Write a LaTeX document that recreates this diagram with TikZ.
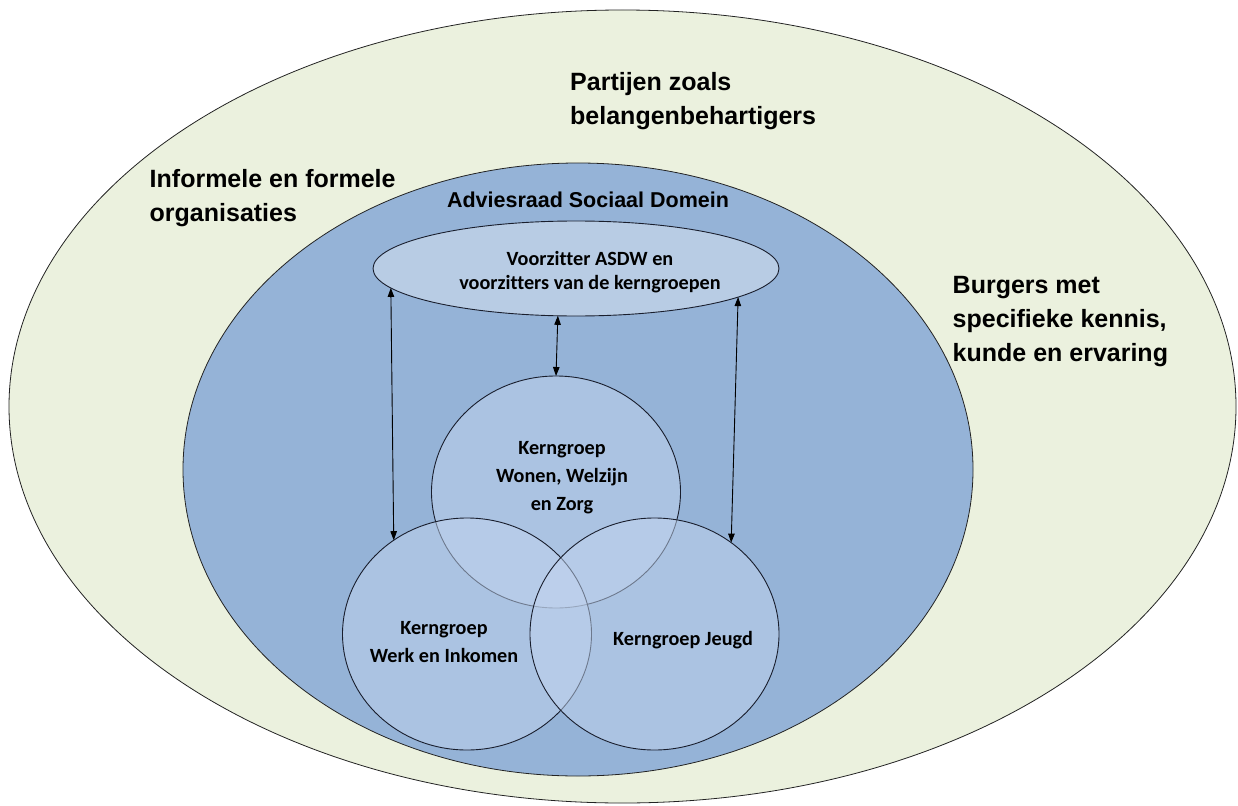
\documentclass[tikz,border=0pt]{standalone}
\usepackage{fontspec}
\newfontfamily\lsans{Liberation Sans}
\newfontfamily\carl{Carlito}[Ligatures=CommonOff]
\usetikzlibrary{shapes.geometric,arrows.meta}
\definecolor{outerfill}{RGB}{235,241,222}
\definecolor{bluefill}{RGB}{149,179,215}
\definecolor{topfill}{RGB}{184,204,228}
\definecolor{circfill}{RGB}{194,212,238}
\definecolor{edge}{RGB}{35,35,35}
\definecolor{circedge}{RGB}{25,30,45}
\begin{document}
\begin{tikzpicture}[x=1pt,y=-1pt,
  shp/.style={ellipse, inner sep=0pt, outer sep=0pt},
  kern/.style={shp, draw=circedge, line width=0.9pt, fill=circfill, fill opacity=0.5, minimum width=249pt, minimum height=232pt},
  bigtxt/.style={font=\lsans\bfseries\fontsize{25}{30}\selectfont, inner sep=0pt, anchor=base west, text=black},
  midtxt/.style={font=\lsans\bfseries\fontsize{21.5}{26}\selectfont, inner sep=0pt, anchor=base, text=black},
  smalltxt/.style={font=\carl\bfseries\fontsize{20.2}{24}\selectfont, inner sep=0pt, anchor=base, text=black},
  arr/.style={{Triangle[length=9pt,width=6.5pt]}-{Triangle[length=9pt,width=6.5pt]}, line width=0.9pt, black}
]
\useasboundingbox (0,0) rectangle (1238,805);

% shapes
\node[shp, draw=edge, line width=0.8pt, fill=outerfill, minimum width=1227pt, minimum height=793pt] (outer) at (622.5,406.5) {};
\node[shp, draw=edge, line width=0.8pt, fill=bluefill, minimum width=790pt, minimum height=613pt] (blue) at (578,469.5) {};
\node[shp, draw=circedge, line width=0.9pt, fill=topfill, minimum width=406pt, minimum height=95pt] (top) at (576,268.5) {};
\node[kern] (wwz) at (556,492) {};
\node[kern] (wi) at (467,634) {};
\node[kern] (jeugd) at (654.5,634) {};

% connectors
\draw[arr] (top.186) -- (wi.128.8);
\draw[arr] (top.-111.9) -- (wwz.north);
\draw[arr] (top.-10.5) -- (jeugd.50.7);

% outer labels
\node[bigtxt] (p1) at (570,91) {Partijen zoals};
\node[bigtxt] (p2) at (570,125) {belangenbehartigers};
\node[bigtxt] (i1) at (149.5,187) {Informele en formele};
\node[bigtxt] (i2) at (149.5,221) {organisaties};
\node[bigtxt] (b1) at (952.5,293) {Burgers met};
\node[bigtxt] (b2) at (952.5,327) {specifieke kennis,};
\node[bigtxt] (b3) at (952.5,361) {kunde en ervaring};

\node[midtxt] (asd) at (588,207) {Adviesraad Sociaal Domein};

% inner labels
\node[smalltxt] (v1) at (590,265) {Voorzitter ASDW en};
\node[smalltxt] (v2) at (590,289) {voorzitters van de kerngroepen};
\node[smalltxt] (w1) at (562,454) {Kerngroep};
\node[smalltxt] (w2) at (562,482) {Wonen, Welzijn};
\node[smalltxt] (w3) at (562,510) {en Zorg};
\node[smalltxt] (k1) at (444,634) {Kerngroep};
\node[smalltxt] (k2) at (444,662) {Werk en Inkomen};
\node[smalltxt] (j1) at (683,645) {Kerngroep Jeugd};
\end{tikzpicture}
\end{document}
